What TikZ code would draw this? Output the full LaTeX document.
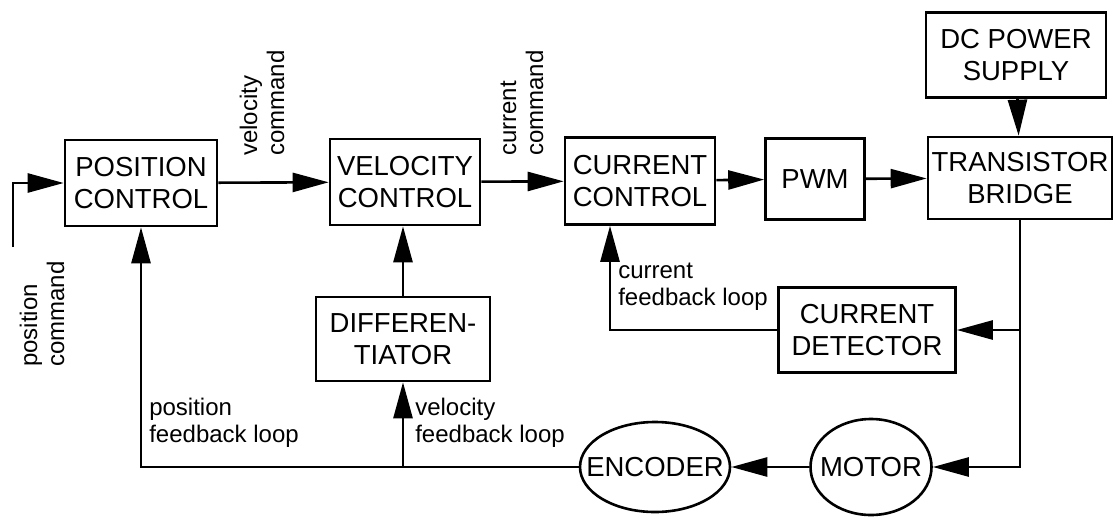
\documentclass[tikz,border=0pt]{standalone}
\usepackage{fontspec}
\setmainfont{Liberation Sans}
\usetikzlibrary{arrows.meta,shapes.geometric}
\tikzset{
  blk/.style={draw, line width=2.6pt, align=center, inner sep=0pt, font=\fontsize{27.5}{32}\selectfont},
  rnd/.style={draw, ellipse, line width=2.6pt, inner sep=0pt, font=\fontsize{27.5}{32}\selectfont},
  lbl/.style={align=left, inner sep=0pt, font=\fontsize{24}{27}\selectfont},
  >={Triangle[length=36pt,width=19pt]},
}
\begin{document}
\begin{tikzpicture}[x=1pt,y=-1pt,line width=2.6pt]
	\useasboundingbox (0,0) rectangle (1116,522);
	%\draw[help lines] (0,0) grid[step=50] (1116,522);
	\node[blk, minimum width=152, minimum height=86] (pos) at (141,183) {POSITION\\CONTROL};
	\node[blk, minimum width=150, minimum height=86] (vel) at (405,182) {VELOCITY\\CONTROL};
	\node[blk, minimum width=150, minimum height=87] (cur) at (640,181) {CURRENT\\CONTROL};
	\node[blk, minimum width=99, minimum height=81] (pwm) at (815,179) {PWM};
	\node[blk, minimum width=184, minimum height=82] (tb) at (1020,178) {TRANSISTOR\\BRIDGE};
	\node[blk, minimum width=180, minimum height=85] (dc) at (1016,55) {DC POWER\\SUPPLY};
	\node[blk, minimum width=174, minimum height=84] (dif) at (403,339) {DIFFEREN-\\TIATOR};
	\node[blk, minimum width=177, minimum height=85] (det) at (867,330) {CURRENT\\DETECTOR};
	\node[rnd, minimum width=150, minimum height=90] (enc) at (655,467) {\makebox[0pt]{ENCODER}};
	\node[rnd, minimum width=121, minimum height=96] (mot) at (871,467) {\makebox[0pt]{MOTOR}};
	\coordinate (in) at (13,247);
	% forward path
	\draw[->] (in) |- (pos.west);
	\draw[->] (pos) -- (vel);
	\draw[->] (vel) -- (cur);
	\draw[->] (cur) -- (pwm);
	\draw[->] (pwm) -- (tb);
	\draw[->] (dc) -- (tb);
	\draw[->] (tb.south) |- (mot.east);
	\draw[->] (tb.south |- det.east) -- (det.east);
	\draw[->] (mot) -- (enc);
	% feedback loops
	\draw[->] (det.west) -| ([xshift=-30]cur.south);
	\draw[->] (enc.west) -| (pos.south);
	\draw[->] (dif.south |- enc.west) -- (dif.south);
	\draw[->] (dif) -- (vel.south -| dif.north);
	\node[lbl, rotate=90, anchor=west] (vcmd) at (262,157) {velocity\\command};
	\node[lbl, rotate=90, anchor=west] (ccmd) at (522,157) {current\\command};
	\node[lbl, rotate=90, anchor=west] (pcmd) at (42,368) {position\\command};
	\node[lbl, anchor=north west] (cfb) at (617,262) {current\\feedback loop};
	\node[lbl, anchor=north west] (pfb) at (148,397) {position\\feedback loop};
	\node[lbl, anchor=north west] (vfb) at (414,397) {velocity\\feedback loop};
\end{tikzpicture}
\end{document}
